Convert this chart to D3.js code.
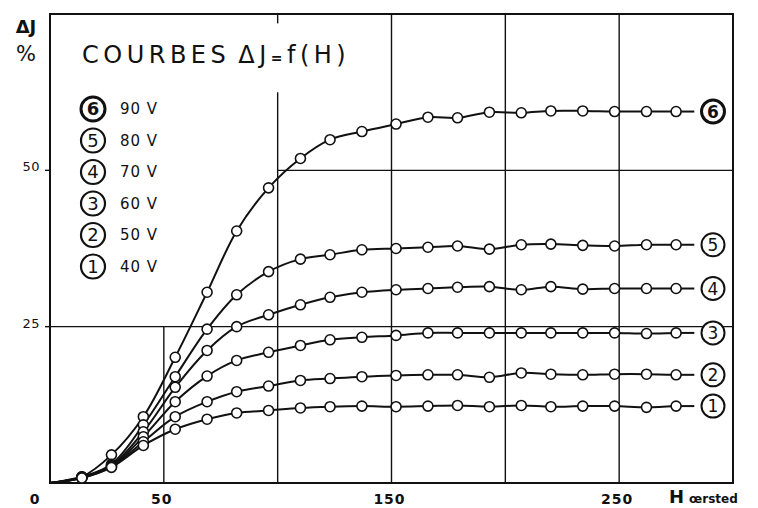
<!DOCTYPE html>
<html>
<head>
<meta charset="utf-8">
<script src="https://cdn.jsdelivr.net/npm/d3@7"></script>
<style>
  body { margin: 0; background: #fff; }
  svg { display: block; }
</style>
</head>
<body>
<div id="chart"></div>
<script>
const fieldH = [14, 27, 41, 55, 69, 82, 96, 110, 123, 137, 152, 166, 179, 193, 207, 220, 234, 248, 262, 275];

// ΔJ % for each voltage
const serie1 = [0.8, 2.5, 6.0, 8.6, 10.2, 11.2, 11.6, 12.0, 12.2, 12.3, 12.2, 12.3, 12.4, 12.2, 12.4, 12.2, 12.3, 12.3, 12.1, 12.3];
const serie2 = [0.8, 2.6, 6.6, 10.6, 13.0, 14.6, 15.5, 16.4, 16.7, 17.0, 17.2, 17.3, 17.3, 16.9, 17.6, 17.4, 17.3, 17.4, 17.4, 17.3];
const serie3 = [0.9, 2.7, 7.4, 13.0, 17.1, 19.6, 20.9, 22.0, 22.9, 23.3, 23.6, 24.0, 24.0, 24.0, 24.0, 24.0, 24.0, 24.0, 23.9, 24.0];
const serie4 = [0.9, 2.8, 8.2, 15.3, 21.2, 25.0, 26.9, 28.5, 29.7, 30.5, 30.9, 31.1, 31.3, 31.4, 30.9, 31.4, 31.0, 31.1, 31.1, 31.1];
const serie5 = [1.0, 3.0, 9.3, 17.0, 24.6, 30.1, 33.8, 35.8, 36.5, 37.3, 37.5, 37.7, 37.9, 37.4, 38.1, 38.2, 38.0, 37.9, 38.1, 38.1];
const serie6 = [1.0, 4.5, 10.6, 20.1, 30.5, 40.3, 47.2, 51.9, 54.9, 56.2, 57.4, 58.5, 58.4, 59.3, 59.2, 59.5, 59.5, 59.4, 59.4, 59.4];

const seriesNum = ["6", "5", "4", "3", "2", "1"];
const seriesVolt = ["90 V", "80 V", "70 V", "60 V", "50 V", "40 V"];
const seriesVals = [serie6, serie5, serie4, serie3, serie2, serie1];

const xTicks = [0, 50, 150, 250];
const yTicks = [25, 50];

const W = 758, H = 508;
const x = d3.scaleLinear().domain([0, 300]).range([50, 733]);
const y = d3.scaleLinear().domain([0, 75]).range([483, 14]);

const svg = d3.select("#chart").append("svg")
  .attr("width", W)
  .attr("height", H)
  .attr("viewBox", `0 0 ${W} ${H}`);

const ink = "#111";
const font = "DejaVu Sans";

// grid (partial lines like the original drawing)
const grid = svg.append("g").attr("stroke", ink).attr("stroke-width", 1.4).attr("fill", "none");
grid.append("line").attr("x1", x(50)).attr("x2", x(50)).attr("y1", y(0)).attr("y2", y(25));
grid.append("line").attr("x1", x(100)).attr("x2", x(100)).attr("y1", y(0)).attr("y2", y(62.5));
grid.append("line").attr("x1", x(100)).attr("x2", x(100)).attr("y1", y(75)).attr("y2", y(73.5));
[150, 200, 250].forEach(v => {
  grid.append("line").attr("x1", x(v)).attr("x2", x(v)).attr("y1", y(0)).attr("y2", y(75));
});
grid.append("line").attr("x1", x(0)).attr("x2", x(300)).attr("y1", y(25)).attr("y2", y(25));
grid.append("line").attr("x1", x(100)).attr("x2", x(300)).attr("y1", y(50)).attr("y2", y(50));

// frame
svg.append("rect")
  .attr("x", x(0)).attr("y", y(75))
  .attr("width", x(300) - x(0)).attr("height", y(0) - y(75))
  .attr("fill", "none").attr("stroke", ink).attr("stroke-width", 2);

// y ticks
svg.append("g").selectAll("line").data(yTicks).join("line")
  .attr("x1", x(0) - 5).attr("x2", x(0))
  .attr("y1", d => y(d)).attr("y2", d => y(d))
  .attr("stroke", ink).attr("stroke-width", 1.4);

svg.append("g").selectAll("text").data(yTicks).join("text")
  .attr("x", 40).attr("y", d => y(d) + 1)
  .attr("text-anchor", "end")
  .style("font-family", font).style("font-size", "13px")
  .style("letter-spacing", "0.5px")
  .attr("fill", ink)
  .text(d => d);

// x tick labels
svg.append("g").selectAll("text").data(xTicks).join("text")
  .attr("x", d => d === 0 ? 35 : x(d) - 2).attr("y", 504)
  .attr("text-anchor", "middle")
  .style("font-family", font).style("font-size", "14px").style("font-weight", "bold")
  .style("letter-spacing", "1px")
  .attr("fill", ink)
  .text(d => d);

// x axis title
const xt = svg.append("text")
  .attr("x", 669).attr("y", 503)
  .style("font-family", font).style("font-weight", "bold").attr("fill", ink);
xt.append("tspan").style("font-size", "18px").text("H");
xt.append("tspan").attr("dx", 5).style("font-size", "12px").text("œrsted");

// y axis title
svg.append("text").attr("x", 26).attr("y", 33).attr("text-anchor", "middle")
  .style("font-family", font).style("font-size", "18px").style("font-weight", "bold")
  .attr("fill", ink).text("ΔJ");
svg.append("text").attr("x", 26).attr("y", 61).attr("text-anchor", "middle")
  .style("font-family", font).style("font-size", "21px")
  .attr("fill", ink).text("%");

// chart title
const title = svg.append("text")
  .attr("x", 82).attr("y", 63)
  .style("font-family", font).style("font-size", "24px")
  .style("letter-spacing", "4.5px")
  .attr("fill", ink);
title.append("tspan").text("COURBES");
title.append("tspan").attr("dx", 8).text("ΔJ");
title.append("tspan").style("font-size", "14px").style("font-weight", "bold").text("=");
title.append("tspan").text("f(H)");

// curves
const line = d3.line()
  .x(d => x(d[0]))
  .y(d => y(d[1]))
  .curve(d3.curveCatmullRom.alpha(0.5));

const labelH = 283;

seriesVals.forEach((vals, i) => {
  const pts = [[0, 0]].concat(fieldH.map((h, j) => [h, vals[j]]));
  const last = vals[vals.length - 1];

  svg.append("path")
    .attr("d", line(pts))
    .attr("fill", "none").attr("stroke", ink).attr("stroke-width", 2);

  svg.append("line")
    .attr("x1", x(fieldH[fieldH.length - 1])).attr("x2", x(labelH))
    .attr("y1", y(last)).attr("y2", y(last))
    .attr("stroke", ink).attr("stroke-width", 2);

  // circled label at the end of the curve
  const lab = svg.append("g").attr("transform", `translate(713,${y(last)})`);
  lab.append("circle").attr("r", 11.5)
    .attr("fill", "#fff").attr("stroke", ink).attr("stroke-width", i === 0 ? 3 : 2);
  lab.append("text").attr("text-anchor", "middle").attr("dy", "0.36em")
    .style("font-family", font).style("font-size", "17px")
    .style("font-weight", i === 0 ? "bold" : "normal")
    .attr("fill", ink).text(seriesNum[i]);
});

// markers drawn on top
seriesVals.forEach(vals => {
  svg.append("g").selectAll("circle").data(fieldH.map((h, j) => [h, vals[j]])).join("circle")
    .attr("cx", d => x(d[0])).attr("cy", d => y(d[1]))
    .attr("r", 5)
    .attr("fill", "#fff").attr("stroke", ink).attr("stroke-width", 1.6);
});

// legend
const legend = svg.append("g");
seriesNum.forEach((n, i) => {
  const cy = 109 + i * 31.5;
  legend.append("circle").attr("cx", 93).attr("cy", cy).attr("r", 12)
    .attr("fill", "#fff").attr("stroke", ink).attr("stroke-width", i === 0 ? 3 : 2.2);
  legend.append("text").attr("x", 93).attr("y", cy).attr("dy", "0.36em")
    .attr("text-anchor", "middle")
    .style("font-family", font).style("font-size", "18px")
    .style("font-weight", i === 0 ? "bold" : "normal")
    .attr("fill", ink).text(n);
  legend.append("text").attr("x", 120).attr("y", cy).attr("dy", "0.36em")
    .style("font-family", font).style("font-size", "15px")
    .style("letter-spacing", "1px")
    .attr("fill", ink).text(seriesVolt[i]);
});
</script>
</body>
</html>
